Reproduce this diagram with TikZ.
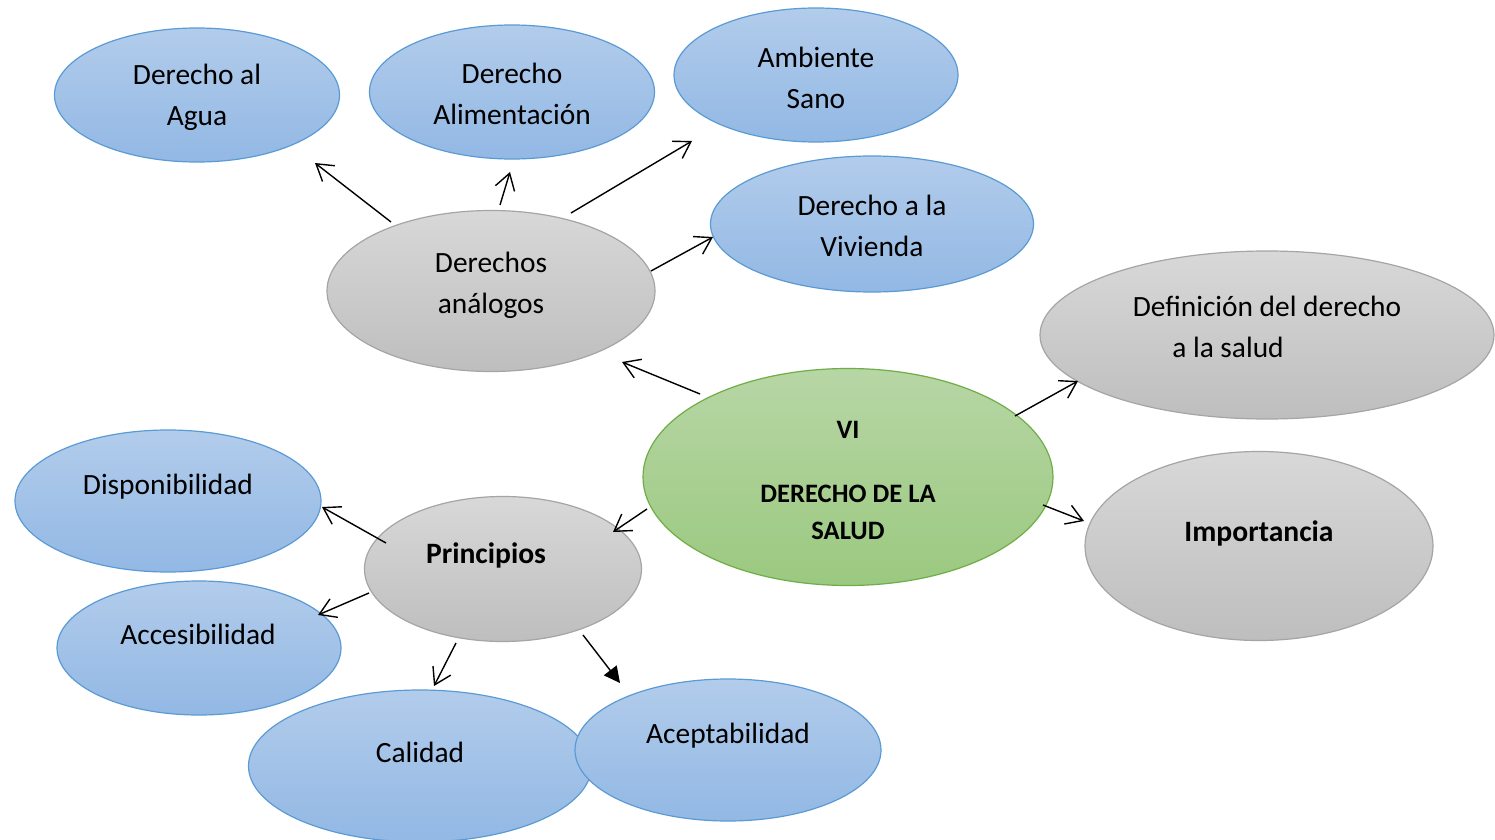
\documentclass[tikz,border=0pt]{standalone}
\usepackage{fontspec}
\setmainfont{Carlito}
\usetikzlibrary{arrows.meta,shapes.geometric}
\definecolor{bluetop}{RGB}{178,204,235}
\definecolor{bluebot}{RGB}{146,184,228}
\definecolor{blueline}{RGB}{91,155,213}
\definecolor{graytop}{RGB}{216,216,216}
\definecolor{graybot}{RGB}{190,190,190}
\definecolor{grayline}{RGB}{165,165,165}
\definecolor{greentop}{RGB}{183,214,165}
\definecolor{greenbot}{RGB}{155,201,128}
\definecolor{greenline}{RGB}{112,173,71}
\begin{document}
\begin{tikzpicture}[x=0.5pt,y=-0.5pt,
  oval/.style={ellipse, inner sep=0pt, line width=0.6pt},
  blueoval/.style={oval, draw=blueline, top color=bluetop, bottom color=bluebot},
  grayoval/.style={oval, draw=grayline, top color=graytop, bottom color=graybot},
  greenoval/.style={oval, draw=greenline, top color=greentop, bottom color=greenbot},
  txt/.style={font=\fontsize{14.7}{20.5}\selectfont, align=center, inner sep=0pt},
  boldtxt/.style={font=\fontsize{14.8}{20.5}\selectfont\bfseries, align=center, inner sep=0pt},
  ctrtxt/.style={font=\fontsize{13.3}{18.5}\selectfont\bfseries, align=center, inner sep=0pt},
  arr/.style={-{Straight Barb[length=8pt,width=10pt]}, line width=0.7pt},
  farr/.style={-{Triangle[length=8pt,width=8pt]}, line width=0.7pt}
]
\useasboundingbox (0,0) rectangle (1495,840);
\fill[white] (0,0) rectangle (1495,840);

% ovals
\node[blueoval, minimum width=142.5pt, minimum height=67pt] (agua) at (197,95) {};
\node[blueoval, minimum width=142.5pt, minimum height=67pt] (alim) at (512,92) {};
\node[blueoval, minimum width=142pt, minimum height=67pt] (amb) at (816,75) {};
\node[blueoval, minimum width=161.5pt, minimum height=68pt] (viv) at (872,224) {};
\node[grayoval, minimum width=164pt, minimum height=80.5pt] (analog) at (491,291) {};
\node[grayoval, minimum width=227pt, minimum height=84pt] (defin) at (1267,335) {};
\node[greenoval, minimum width=205pt, minimum height=108.5pt] (ctr) at (848,477) {};
\node[grayoval, minimum width=174pt, minimum height=94.5pt] (impo) at (1259,546) {};
\node[blueoval, minimum width=153pt, minimum height=71pt] (disp) at (168,501) {};
\node[grayoval, minimum width=138.5pt, minimum height=72.5pt] (princ) at (503,569) {};
\node[blueoval, minimum width=142pt, minimum height=67pt] (acces) at (199,648) {};
\node[blueoval, minimum width=171.5pt, minimum height=76pt] (cal) at (420,766) {};
\node[blueoval, minimum width=153pt, minimum height=71pt] (acep) at (728,750) {};

% texts
\node[txt] (tagua) at (197,97) {Derecho al\\Agua};
\node[txt] (talim) at (512,94) {Derecho\\Alimentación};
\node[txt] (tamb) at (816,78) {Ambiente\\Sano};
\node[txt] (tviv) at (872,226) {Derecho a la\\Vivienda};
\node[txt] (tanalog) at (491,285) {Derechos\\análogos};
\node[txt] (tdef1) at (1267,306) {Definición del derecho};
\node[txt] (tdef2) at (1228,347) {a la salud};
\node[ctrtxt] (tvi) at (848,430) {VI};
\node[ctrtxt] (tctr) at (848,512) {DERECHO DE LA\\SALUD};
\node[boldtxt] (timpo) at (1259,533) {Importancia};
\node[txt] (tdisp) at (168,487) {Disponibilidad};
\node[boldtxt] (tprinc) at (486,555) {Principios};
\node[txt] (tacces) at (198,634) {Accesibilidad};
\node[txt] (tcal) at (420,752) {Calidad};
\node[txt] (tacep) at (728,736) {Aceptabilidad};

% arrow end points
\coordinate (a1s) at (391,222); \coordinate (a1e) at (315,163);
\coordinate (a2s) at (500,205); \coordinate (a2e) at (510,172);
\coordinate (a3s) at (571,213); \coordinate (a3e) at (692,141);
\coordinate (a4s) at (651,271); \coordinate (a4e) at (713,237);
\coordinate (c1s) at (700,394); \coordinate (c1e) at (622,362);
\coordinate (c2s) at (1015,416); \coordinate (c2e) at (1078,381);
\coordinate (c3s) at (1043,505); \coordinate (c3e) at (1084,521);
\coordinate (c4s) at (647,509); \coordinate (c4e) at (613,532);
\coordinate (p1s) at (386,543); \coordinate (p1e) at (322,507);
\coordinate (p2s) at (369,593); \coordinate (p2e) at (318,615);
\coordinate (p3s) at (456,643); \coordinate (p3e) at (434,686);
\coordinate (p4s) at (583,635); \coordinate (p4e) at (620,683);

\draw[arr] (a1s) -- (a1e);
\draw[arr] (a2s) -- (a2e);
\draw[arr] (a3s) -- (a3e);
\draw[arr] (a4s) -- (a4e);
\draw[arr] (c1s) -- (c1e);
\draw[arr] (c2s) -- (c2e);
\draw[arr] (c3s) -- (c3e);
\draw[arr] (c4s) -- (c4e);
\draw[arr] (p1s) -- (p1e);
\draw[arr] (p2s) -- (p2e);
\draw[arr] (p3s) -- (p3e);
\draw[farr] (p4s) -- (p4e);
\end{tikzpicture}
\end{document}
